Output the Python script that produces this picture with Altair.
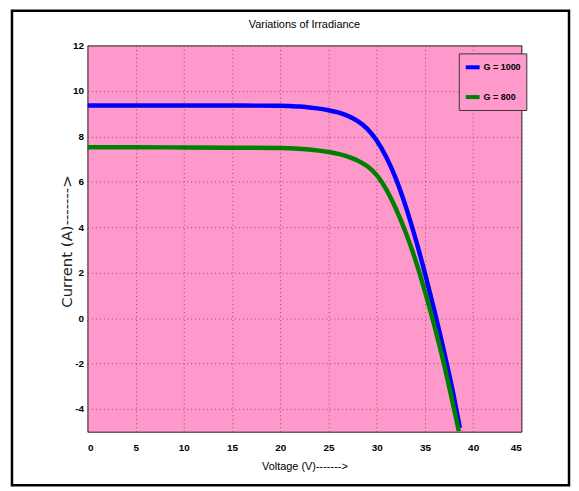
import altair as alt
import pandas as pd

series = ["G = 1000", "G = 800"]

voltage_1000 = [0, 5, 10, 15, 20, 21, 22, 23, 24, 25, 26, 27, 28, 29, 30, 31, 32, 33, 34, 35, 36, 37, 38, 38.62]
current_1000 = [9.36, 9.36, 9.36, 9.355, 9.345, 9.33, 9.31, 9.27, 9.22, 9.15, 9.05, 8.90, 8.68, 8.34, 7.82, 7.08, 6.13, 4.93, 3.53, 1.98, 0.30, -1.50, -3.45, -4.83]

voltage_800 = [0, 5, 10, 15, 20, 21, 22, 23, 24, 25, 26, 27, 28, 29, 30, 31, 32, 33, 34, 35, 36, 37, 38, 38.52]
current_800 = [7.52, 7.52, 7.51, 7.50, 7.49, 7.475, 7.45, 7.42, 7.37, 7.31, 7.23, 7.11, 6.94, 6.69, 6.29, 5.65, 4.80, 3.78, 2.58, 1.18, -0.37, -2.07, -3.97, -4.98]

x_ticks = [0, 5, 10, 15, 20, 25, 30, 35, 40, 45]
y_ticks = [-4, -2, 0, 2, 4, 6, 8, 10, 12]

chart_title = "Variations of Irradiance"

rows = []
for v, i in zip(voltage_1000, current_1000):
    rows.append({"V": v, "I": i, "G": series[0]})
for v, i in zip(voltage_800, current_800):
    rows.append({"V": v, "I": i, "G": series[1]})
df = pd.DataFrame(rows)

NARROW = "Liberation Sans Narrow, Liberation Sans, Arial, sans-serif"
PINK = "#FF99CC"

lines = alt.Chart(df).mark_line(strokeWidth=4.5, interpolate="monotone", clip=True).encode(
    x=alt.X(
        "V:Q",
        scale=alt.Scale(domain=[0, 45], nice=False, zero=False),
        axis=alt.Axis(
            values=x_ticks, title="Voltage (V)------->", grid=True,
            labelPadding=11, tickSize=0, titlePadding=8,
            labelExpr="'' + datum.value",
        ),
    ),
    y=alt.Y(
        "I:Q",
        scale=alt.Scale(domain=[-5, 12], nice=False, zero=False),
        axis=alt.Axis(
            values=y_ticks, title="Current (A)------->", grid=True,
            labelPadding=4, tickSize=0,
            labelExpr="'' + datum.value",
            titleX=-13, titleY=197, titleAngle=-90, titleAlign="center",
            titleBaseline="bottom",
            titleFont="DejaVu Sans", titleFontWeight="normal", titleFontSize=15,
            titleColor="#222222",
        ),
    ),
    color=alt.Color(
        "G:N",
        sort=series,
        scale=alt.Scale(domain=series, range=["#0000FF", "#008000"]),
        legend=alt.Legend(
            title=None, orient="none", legendX=374, legendY=8,
            fillColor=PINK, strokeColor="#333333", padding=5, rowPadding=13,
            symbolType="stroke", symbolSize=196, symbolStrokeWidth=4,
            labelFont=NARROW, labelFontSize=9, labelFontWeight="bold",
            labelOffset=2, labelColor="#000000",
        ),
    ),
)

one = pd.DataFrame({"a": [0]})

title_mark = alt.Chart(one).mark_text(
    text=chart_title, font=NARROW, fontSize=11, color="#000000",
    align="center", baseline="middle",
).encode(x=alt.value(218.5), y=alt.value(-21))

frame = alt.Chart(one).mark_rect(
    filled=False, stroke="#000000", strokeWidth=2.5
).encode(
    x=alt.value(-76), x2=alt.value(485), y=alt.value(-35), y2=alt.value(443)
)

chart = alt.layer(lines, title_mark, frame).properties(
    width=437,
    height=389,
    autosize=alt.AutoSizeParams(type="none"),
    padding={"left": 80, "top": 36, "right": 50, "bottom": 55},
    background="#FFFFFF",
).configure_view(
    fill=PINK, stroke="#222222", strokeWidth=1
).configure_axis(
    domain=False,
    gridColor="#5a3a4a", gridOpacity=0.75, gridDash=[1, 3], gridWidth=1,
    labelFont=NARROW, labelFontSize=10, labelFontWeight="bold", labelColor="#000000",
    titleFont=NARROW, titleFontSize=11, titleFontWeight="normal", titleColor="#000000",
)

chart.save("out.html", embed_options={"renderer": "svg", "actions": False})
